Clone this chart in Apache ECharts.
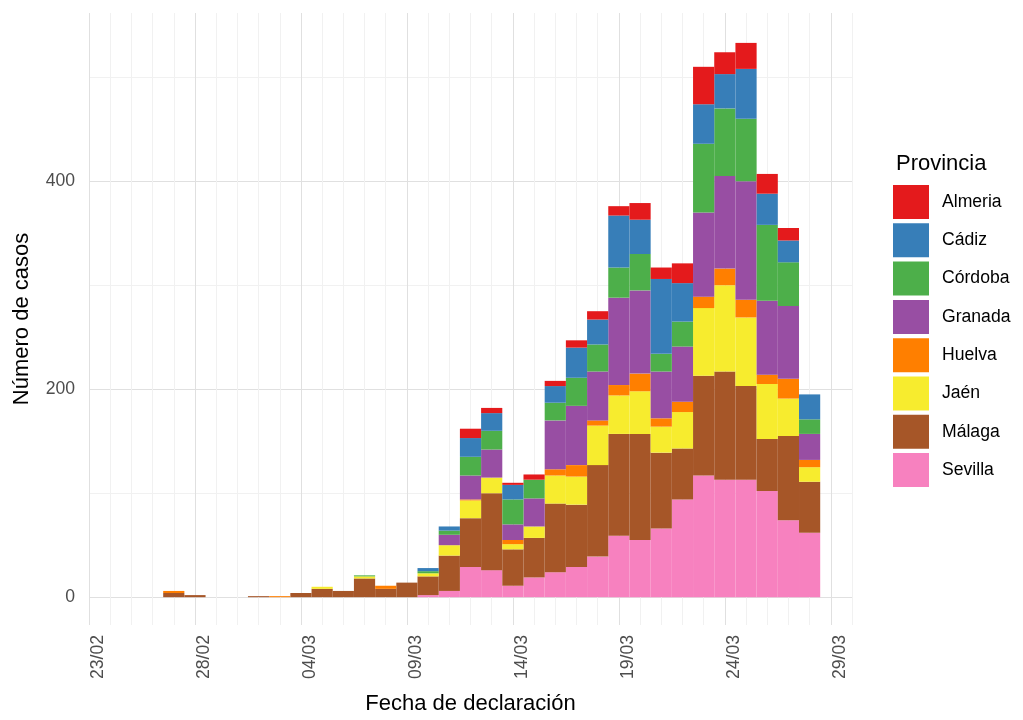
<!DOCTYPE html>
<html>
<head>
<meta charset="utf-8">
<script src="https://cdn.jsdelivr.net/npm/echarts@6/dist/echarts.min.js"></script>
<style>
html,body{margin:0;padding:0;background:#ffffff;}
#chart{width:1023px;height:720px;}
</style>
</head>
<body>
<div id="chart"></div>
<script>
// Dates of declaration (one bar per day, x = index in this list)
const fechas = ['23/02','24/02','25/02','26/02','27/02','28/02','29/02','01/03','02/03','03/03',
  '04/03','05/03','06/03','07/03','08/03','09/03','10/03','11/03','12/03','13/03',
  '14/03','15/03','16/03','17/03','18/03','19/03','20/03','21/03','22/03','23/03',
  '24/03','25/03','26/03','27/03','28/03'];
const tickLabels = ['23/02','28/02','04/03','09/03','14/03','19/03','24/03','29/03'];
const yTickLabels = [0, 200, 400];

// Daily cases per province
const sevilla = [0,0,0,0,0,0,0,0,0,0,0,0,0,0,0,0,2,6,29,26,11,19,24,29,39,59,55,66,94,117,113,113,102,74,62];
const malaga  = [0,0,0,0,4,2,0,0,1,0,4,8,6,18,8,14,18,34,47,74,35,38,66,60,88,98,102,73,49,96,104,90,50,81,49];
const jaen    = [0,0,0,0,0,0,0,0,0,0,0,2,0,2,0,0,3,10,17,15,5,11,27,27,38,37,41,25,35,65,83,66,53,36,14];
const huelva  = [0,0,0,0,2,0,0,0,0,1,0,0,0,0,3,0,0,0,1,0,4,0,6,11,5,10,17,8,10,11,16,17,9,19,7];
const granada = [0,0,0,0,0,0,0,0,0,0,0,0,0,0,0,0,0,10,23,27,15,27,47,57,47,84,80,45,53,81,89,114,71,70,25];
const cordoba = [0,0,0,0,0,0,0,0,0,0,0,0,0,1,0,0,2,4,18,18,24,18,17,27,26,29,35,17,24,66,65,60,73,42,14];
const cadiz   = [0,0,0,0,0,0,0,0,0,0,0,0,0,0,0,0,3,4,18,17,14,0,16,29,24,50,33,72,37,38,33,48,30,21,24];
const almeria = [0,0,0,0,0,0,0,0,0,0,0,0,0,0,0,0,0,0,9,5,2,5,5,7,8,9,16,11,19,36,21,25,19,12,0];

const provincias = ['Almeria','Cádiz','Córdoba','Granada','Huelva','Jaén','Málaga','Sevilla'];

// stacking order bottom -> top
const stackOrder = [
  {name:'Sevilla', values:sevilla, color:'#F781BF'},
  {name:'Málaga',  values:malaga,  color:'#A65628'},
  {name:'Jaén',    values:jaen,    color:'#F7EC2E'},
  {name:'Huelva',  values:huelva,  color:'#FF7F00'},
  {name:'Granada', values:granada, color:'#984EA3'},
  {name:'Córdoba', values:cordoba, color:'#4DAF4A'},
  {name:'Cádiz',   values:cadiz,   color:'#377EB8'},
  {name:'Almeria', values:almeria, color:'#E41A1C'}
];

const FONT = 'Liberation Sans, Arial, Helvetica, sans-serif';

// data rows are [count, dayIndex]; encode maps dim 1 -> x, dim 0 -> y so that y is the stacked dimension
const series = stackOrder.map(s => ({
  name: s.name,
  type: 'bar',
  stack: 'total',
  barWidth: '100%',
  itemStyle: {color: s.color},
  emphasis: {disabled: true},
  encode: {x: 1, y: 0},
  data: s.values.map((v, i) => [v, i])
}));

const chart = echarts.init(document.getElementById('chart'), null, {renderer: 'canvas'});
chart.setOption({
  animation: false,
  backgroundColor: '#ffffff',
  title: {
    text: 'Provincia',
    left: 891,
    top: 148,
    textStyle: {fontFamily: FONT, fontSize: 22, fontWeight: 'normal', color: '#000000'}
  },
  legend: {
    data: provincias,
    orient: 'vertical',
    left: 893,
    top: 185,
    itemWidth: 36,
    itemHeight: 34,
    itemGap: 4.3,
    icon: 'rect',
    padding: 0,
    selectedMode: false,
    textStyle: {fontFamily: FONT, fontSize: 17.6, color: '#000000', padding: [0, 0, 0, 8]}
  },
  grid: {left: 89, right: 171, top: 13, bottom: 93.6, containLabel: false},
  xAxis: {
    type: 'value',
    min: 0,
    max: 36,
    interval: 1,
    axisLine: {show: false},
    axisTick: {show: false},
    axisLabel: {
      rotate: 90,
      margin: 10,
      verticalAlign: 'top',
      fontFamily: FONT,
      fontSize: 17.6,
      color: '#4d4d4d',
      formatter: function (v) {
        if (v % 5 === 0 && v / 5 < tickLabels.length) return tickLabels[v / 5];
        return '';
      }
    },
    splitLine: {
      show: true,
      lineStyle: {color: ['#e0e0e0', '#f1f1f1', '#f1f1f1', '#f1f1f1', '#f1f1f1'], width: 1}
    },
    name: 'Fecha de declaración',
    nameLocation: 'middle',
    nameGap: 68,
    nameTextStyle: {fontFamily: FONT, fontSize: 22, color: '#000000'}
  },
  yAxis: {
    type: 'value',
    min: -26.75,
    max: 561.75,
    splitNumber: 6,
    axisLine: {show: false},
    axisTick: {show: false},
    axisLabel: {
      margin: 14,
      fontFamily: FONT,
      fontSize: 17.6,
      color: '#4d4d4d',
      formatter: function (v) {
        return yTickLabels.indexOf(v) >= 0 ? String(v) : '';
      }
    },
    splitLine: {
      show: true,
      showMinLine: false,
      showMaxLine: false,
      lineStyle: {color: ['#e0e0e0', '#f1f1f1'], width: 1}
    },
    name: 'Número de casos',
    nameLocation: 'middle',
    nameGap: 56,
    nameTextStyle: {fontFamily: FONT, fontSize: 22, color: '#000000'}
  },
  series: series
});
</script>
</body>
</html>
